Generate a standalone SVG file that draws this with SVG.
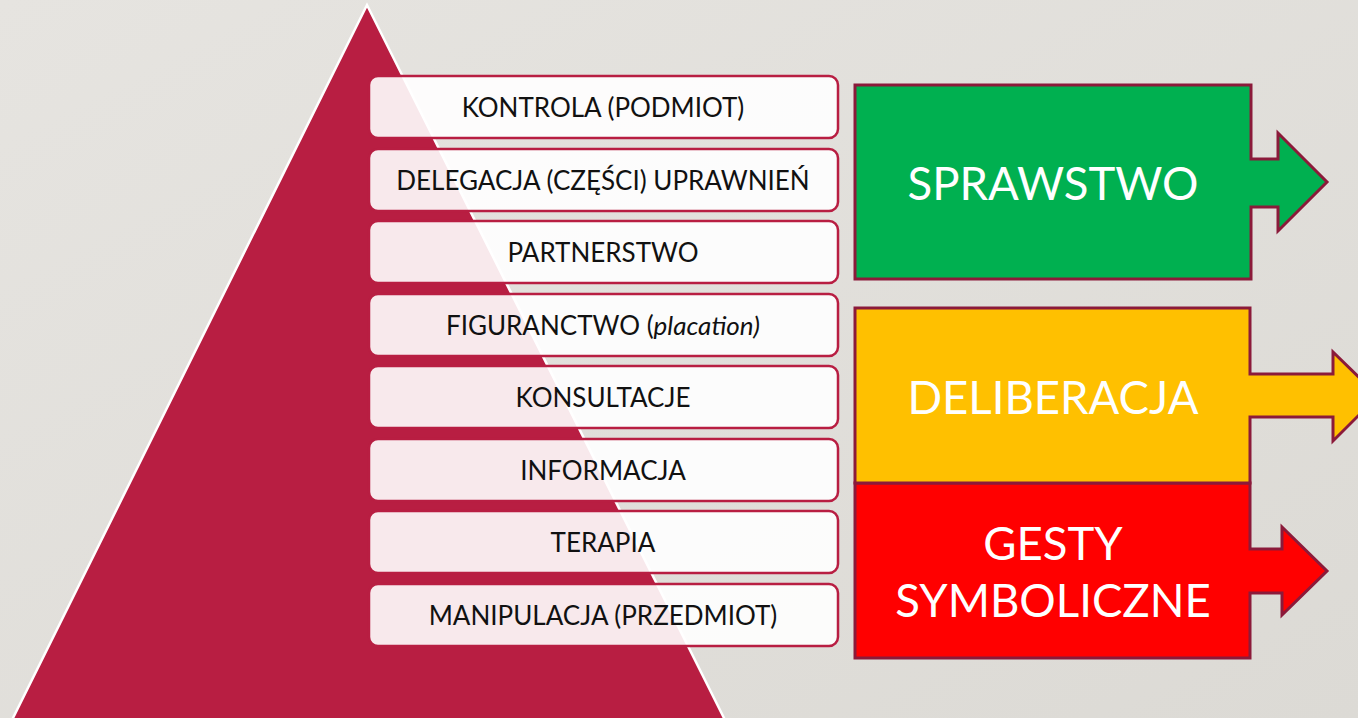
<svg xmlns="http://www.w3.org/2000/svg" width="1358" height="718" viewBox="0 0 1358 718">
<defs>
<linearGradient id="bg" x1="0" y1="0" x2="1" y2="1">
<stop offset="0" stop-color="#e6e4e0"/>
<stop offset="1" stop-color="#dcdad5"/>
</linearGradient>
</defs>
<style>
.row{fill:#ffffff;fill-opacity:0.9;stroke:#b81e42;stroke-width:2.5}
.rt{font-family:Lato,"Liberation Sans",sans-serif;font-size:26px;fill:#111111;text-anchor:middle}
.box{stroke:#8b1a3a;stroke-width:3;stroke-linejoin:miter}
.bt{font-family:Lato,"Liberation Sans",sans-serif;font-size:45.5px;fill:#ffffff;text-anchor:middle}
</style>
<rect width="1358" height="718" fill="url(#bg)"/>
<g id="pyramid">
<polygon points="367,5 12,720 725,720" fill="#b81e42" stroke="#ffffff" stroke-width="2.5"/>
</g>
<g id="row-kontrola"><rect class="row" x="369" y="76" width="469" height="62" rx="9"/><text class="rt" x="603" y="117">KONTROLA (PODMIOT)</text></g>
<g id="row-delegacja"><rect class="row" x="369" y="149" width="469" height="62" rx="9"/><text class="rt" x="603" y="190">DELEGACJA (CZĘŚCI) UPRAWNIEŃ</text></g>
<g id="row-partnerstwo"><rect class="row" x="369" y="221" width="469" height="62" rx="9"/><text class="rt" x="603" y="262">PARTNERSTWO</text></g>
<g id="row-figuranctwo"><rect class="row" x="369" y="294" width="469" height="62" rx="9"/><text class="rt" x="603" y="335">FIGURANCTWO (<tspan font-style="italic">placation)</tspan></text></g>
<g id="row-konsultacje"><rect class="row" x="369" y="366" width="469" height="62" rx="9"/><text class="rt" x="603" y="407">KONSULTACJE</text></g>
<g id="row-informacja"><rect class="row" x="369" y="439" width="469" height="62" rx="9"/><text class="rt" x="603" y="480">INFORMACJA</text></g>
<g id="row-terapia"><rect class="row" x="369" y="511" width="469" height="62" rx="9"/><text class="rt" x="603" y="552">TERAPIA</text></g>
<g id="row-manipulacja"><rect class="row" x="369" y="584" width="469" height="62" rx="9"/><text class="rt" x="603" y="625">MANIPULACJA (PRZEDMIOT)</text></g>
<g id="box-sprawstwo">
<polygon class="box" fill="#00b050" points="855,85 1251,85 1251,159 1278,159 1278,133 1327,182 1278,231 1278,207 1251,207 1251,279 855,279"/>
<text class="bt" x="1053" y="200">SPRAWSTWO</text>
</g>
<g id="box-gesty">
<polygon class="box" fill="#ff0000" points="855,483 1250,483 1250,549 1282,549 1282,527 1327,571 1282,615 1282,593 1250,593 1250,658 855,658"/>
<text class="bt" x="1053" y="560">GESTY</text>
<text class="bt" x="1053" y="617">SYMBOLICZNE</text>
</g>
<g id="box-deliberacja">
<polygon class="box" fill="#ffc000" points="855,308 1250,308 1250,374 1333,374 1333,352 1378,396 1333,441 1333,417 1250,417 1250,483 855,483"/>
<text class="bt" x="1053" y="414">DELIBERACJA</text>
</g>
<g id="connectors"></g>
</svg>
